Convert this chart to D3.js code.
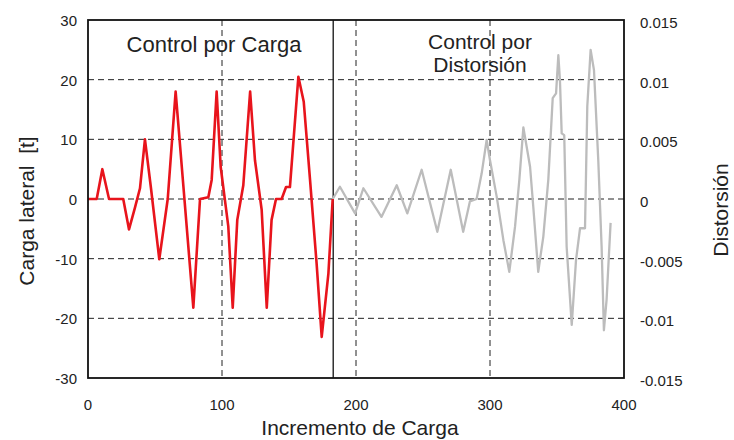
<!DOCTYPE html>
<html>
<head>
<meta charset="utf-8">
<script src="https://cdn.jsdelivr.net/npm/d3@7"></script>
<style>
  body { margin: 0; background: #fff; }
  svg text { font-family: "Liberation Sans", Arial, sans-serif; fill: #222; }
</style>
</head>
<body>
<svg width="734" height="440"></svg>
<script>
// load control segment: step, lateral load [t]
var cargaX = [0, 6.5, 10.7, 15.7, 26.3, 30.6, 35, 38.8, 42.5, 47, 53.2, 59.5, 65.4, 78.6, 83.6,
  89.8, 92.3, 96, 99, 104.7, 108, 111.4, 115.9, 121, 124.6, 129.6, 133.4, 137, 140.3, 144.5,
  147.8, 150.7, 157, 161, 165.7, 170.6, 174.4, 179.4, 182.6];
var cargaY = [0, 0, 5, 0, 0, -5.1, -1.5, 1.8, 10, 1.8, -10.1, 0, 18, -18.2, 0,
  0.3, 3.2, 18, 5.4, -4.6, -18.2, -3.5, 2.3, 18, 6.5, -1.8, -18.2, -3.5, 0, 0,
  2, 2, 20.5, 16.3, 3.2, -10.8, -23.1, -12.5, 0];

// drift control segment: step, drift
var distX = [182.6, 188, 199.3, 205.5, 219, 230.4, 238.3, 249, 260.7, 270.7, 280, 285, 290,
  293.8, 297.5, 300, 305, 310, 314.4, 318.7, 321.9, 324.9, 329.9, 332.3, 336, 339.8, 343.5,
  346.8, 349.3, 351, 352.2, 353.5, 355.4, 357.2, 361, 364.2, 367.2, 370.9, 372.6, 375.1,
  377.6, 380.8, 383.3, 385, 387, 390];
var distY = [0, 0.00103, -0.0012, 0.0009, -0.0015, 0.00115, -0.0012, 0.00245, -0.00275, 0.00245,
  -0.00275, -0.0002, 0, 0.00215, 0.00495, 0.00325, 0.0002, -0.00345, -0.0061, -0.0023, 0.0016,
  0.006, 0.0027, -0.00065, -0.0061, -0.00315, 0.0016, 0.00845, 0.00885, 0.01205, 0.00995,
  0.0055, 0.00535, -0.004, -0.01055, -0.0051, -0.00245, -0.00245, 0.00775, 0.0125, 0.0108,
  0.00325, -0.004, -0.011, -0.00845, -0.002];

var xTicks = [0, 100, 200, 300, 400];
var yTicks = [-30, -20, -10, 0, 10, 20, 30];
var y2Ticks = [-0.015, -0.01, -0.005, 0, 0.005, 0.01, 0.015];
var limite = 183;

var svg = d3.select("svg");
var pLeft = 88, pRight = 624, pTop = 20, pBottom = 378;

var x = d3.scaleLinear().domain([0, 400]).range([pLeft, pRight]);
var y = d3.scaleLinear().domain([-30, 30]).range([pBottom, pTop]);
var y2 = d3.scaleLinear().domain([-0.015, 0.015]).range([pBottom, pTop]);

// grid
var grid = svg.append("g").attr("stroke", "#222").attr("stroke-width", 1).attr("stroke-dasharray", "6,4");
grid.selectAll(".gy").data(yTicks.filter(d => d > -30 && d < 30)).enter().append("line")
  .attr("x1", pLeft).attr("x2", pRight)
  .attr("y1", d => y(d)).attr("y2", d => y(d));
grid.selectAll(".gx").data(xTicks.filter(d => d > 0 && d < 400)).enter().append("line")
  .attr("x1", d => x(d)).attr("x2", d => x(d))
  .attr("y1", pTop).attr("y2", pBottom);

// separator between the two control modes
svg.append("line").attr("x1", x(limite)).attr("x2", x(limite))
  .attr("y1", pTop).attr("y2", pBottom).attr("stroke", "#222").attr("stroke-width", 1.4);

var lineC = d3.line().x((d, i) => x(cargaX[i])).y(d => y(d));
var lineD = d3.line().x((d, i) => x(distX[i])).y(d => y2(d));

svg.append("path").datum(distY).attr("d", lineD)
  .attr("fill", "none").attr("stroke", "#bcbcbc").attr("stroke-width", 2.3).attr("stroke-linejoin", "round");
svg.append("path").datum(cargaY).attr("d", lineC)
  .attr("fill", "none").attr("stroke", "#e8141c").attr("stroke-width", 2.6).attr("stroke-linejoin", "round");

// frame
svg.append("rect").attr("x", pLeft).attr("y", pTop).attr("width", pRight - pLeft).attr("height", pBottom - pTop)
  .attr("fill", "none").attr("stroke", "#111").attr("stroke-width", 1.8);

// tick labels
svg.selectAll(".yl").data(yTicks).enter().append("text")
  .attr("x", 77).attr("y", d => y(d) + 6).attr("text-anchor", "end")
  .attr("font-size", 15).text(d => d);
svg.selectAll(".y2l").data(y2Ticks).enter().append("text")
  .attr("x", 640).attr("y", d => y2(d) + 8).attr("text-anchor", "start")
  .attr("font-size", 15).text(d => d);
svg.selectAll(".xl").data(xTicks).enter().append("text")
  .attr("x", d => x(d)).attr("y", 410).attr("text-anchor", "middle")
  .attr("font-size", 15).text(d => d);

// axis titles
svg.append("text").attr("x", 360).attr("y", 435).attr("text-anchor", "middle")
  .attr("font-size", 21).text("Incremento de Carga");
svg.append("text").attr("transform", "translate(34,211) rotate(-90)").attr("text-anchor", "middle")
  .attr("font-size", 21).text("Carga lateral\u00a0\u00a0[t]");
svg.append("text").attr("transform", "translate(728,210) rotate(-90)").attr("text-anchor", "middle")
  .attr("font-size", 21).text("Distorsión");

// region labels
svg.append("text").attr("x", 214).attr("y", 52).attr("text-anchor", "middle")
  .attr("font-size", 22).text("Control por Carga");
svg.append("text").attr("x", 480).attr("y", 49).attr("text-anchor", "middle")
  .attr("font-size", 21).text("Control por");
svg.append("text").attr("x", 480).attr("y", 72).attr("text-anchor", "middle")
  .attr("font-size", 21).text("Distorsión");
</script>
</body>
</html>
